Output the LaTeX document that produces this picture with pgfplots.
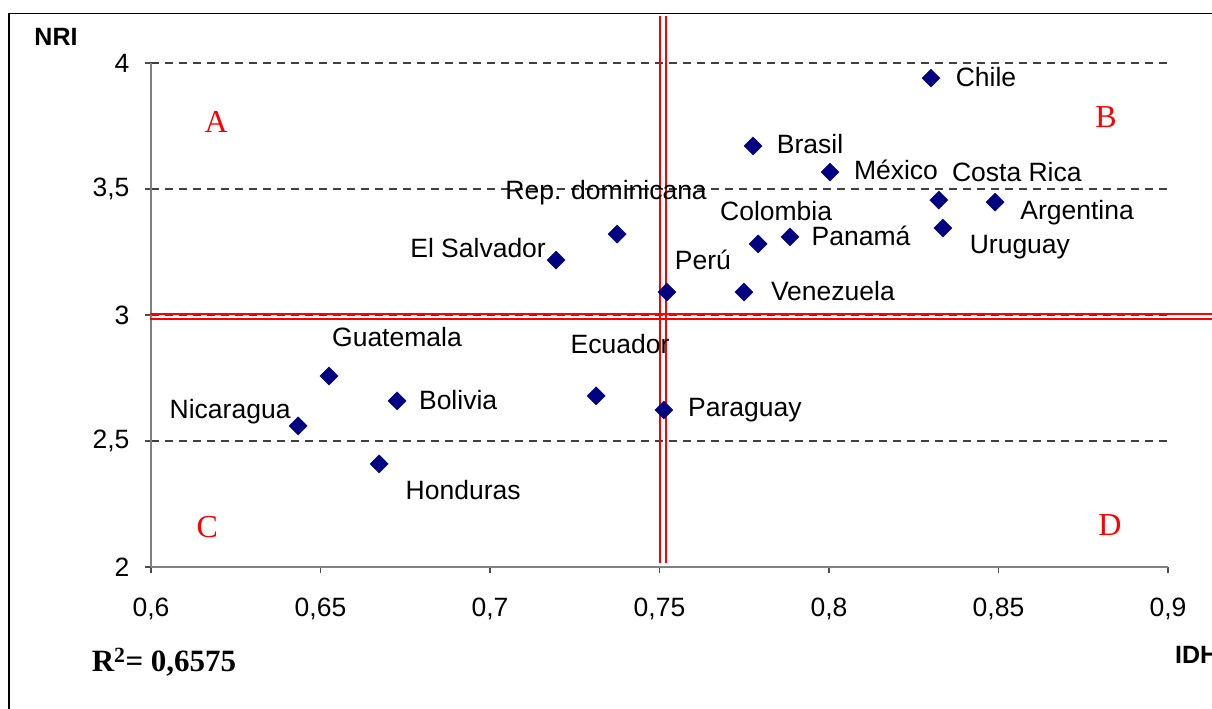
\documentclass[border=0pt]{standalone}
\usepackage{pgfplots}
\pgfplotsset{compat=1.18}
\usepackage{fontspec}
\setmainfont{Liberation Sans}
\newfontfamily\timesfont{Liberation Serif}
\definecolor{navy}{RGB}{0,0,128}
\definecolor{axgray}{RGB}{128,128,128}
\pgfplotsset{
  lbl/.style n args={3}{forget plot, draw=none, mark=none,
    nodes near coords={#1},
    every node near coord/.style={anchor=center, xshift=#2pt, yshift=#3pt,
      font=\fontsize{26.5}{28}\selectfont, text=black, inner sep=0pt}},
}

\begin{document}
\begin{tikzpicture}
\draw[black, line width=1.5pt] (9pt,-30pt) -- (9pt,695.7pt) -- (1260pt,695.7pt);
\begin{axis}[
  at={(151pt,142pt)}, anchor=south west,
  width=1017pt, height=504pt, scale only axis,
  xmin=0.6, xmax=0.9, ymin=2, ymax=4,
  clip=false,
  axis x line*=bottom, axis y line*=left,
  axis line style={axgray, line width=2pt, -},
  xtick={0.6,0.65,0.7,0.75,0.8,0.85,0.9},
  ytick={2,2.5,3,3.5,4},
  tick align=outside, major tick length=6pt,
  tick style={axgray!60!black, line width=1.5pt},
  ymajorgrids,
  major grid style={black!75, dash pattern=on 8pt off 6pt, line width=1.3pt},
  /pgf/number format/.cd, use comma, fixed, precision=2, assume math mode=true,
  /pgfplots/.cd,
  tick label style={font=\fontsize{26.5}{30}\selectfont, text=black},
  xticklabel style={yshift=-21pt},
  yticklabel style={xshift=-12pt},
]
\addplot[red, line width=2pt, forget plot] coordinates {(0.7502,2.016) (0.7502,4.187)};
\addplot[red, line width=2pt, forget plot] coordinates {(0.7518,2.016) (0.7518,4.187)};
\addplot[red, line width=2pt, forget plot] coordinates {(0.5997,3.0028) (0.93,3.0028)};
\addplot[red, line width=2pt, forget plot] coordinates {(0.5997,2.983) (0.93,2.983)};
\addplot[only marks, mark=square*, mark size=6.4pt,
  mark options={rotate=45, fill=navy, draw=navy}] coordinates {
  (0.8301,3.940) (0.7776,3.671) (0.8003,3.567) (0.8324,3.456) (0.8490,3.448)
  (0.8336,3.345) (0.7885,3.310) (0.7791,3.282) (0.7375,3.321) (0.7195,3.218)
  (0.7522,3.091) (0.7749,3.091) (0.6525,2.758) (0.7313,2.679) (0.6726,2.659)
  (0.7513,2.623) (0.6434,2.560) (0.6673,2.409)};
\addplot[lbl={Chile}{55}{1}] coordinates {(0.8301,3.940)};
\addplot[lbl={Brasil}{57}{2}] coordinates {(0.7776,3.671)};
\addplot[lbl={México}{66}{2}] coordinates {(0.8003,3.567)};
\addplot[lbl={Costa Rica}{78}{28}] coordinates {(0.8324,3.456)};
\addplot[lbl={Argentina}{82}{-11}] coordinates {(0.8490,3.448)};
\addplot[lbl={Uruguay}{77}{-19}] coordinates {(0.8336,3.345)};
\addplot[lbl={Panamá}{71}{1}] coordinates {(0.7885,3.310)};
\addplot[lbl={Colombia}{18}{33}] coordinates {(0.7791,3.282)};
\addplot[lbl={Rep. dominicana}{-11}{41}] coordinates {(0.7375,3.321)};
\addplot[lbl={El Salvador}{-78}{12}] coordinates {(0.7195,3.218)};
\addplot[lbl={Perú}{36}{32}] coordinates {(0.7522,3.091)};
\addplot[lbl={Venezuela}{89}{1}] coordinates {(0.7749,3.091)};
\addplot[lbl={Guatemala}{68}{39}] coordinates {(0.6525,2.758)};
\addplot[lbl={Ecuador}{24}{52}] coordinates {(0.7313,2.679)};
\addplot[lbl={Bolivia}{61}{1}] coordinates {(0.6726,2.659)};
\addplot[lbl={Paraguay}{81}{0}] coordinates {(0.7513,2.623)};
\addplot[lbl={Nicaragua}{-68}{14}] coordinates {(0.6434,2.560)};
\addplot[lbl={Honduras}{84}{-26}] coordinates {(0.6673,2.409)};
\node[red, font=\timesfont\fontsize{32}{34}\selectfont] at (axis cs:0.6192,3.766) {A};
\node[red, font=\timesfont\fontsize{32}{34}\selectfont] at (axis cs:0.8817,3.786) {B};
\node[red, font=\timesfont\fontsize{32}{34}\selectfont] at (axis cs:0.6166,2.159) {C};
\node[red, font=\timesfont\fontsize{32}{34}\selectfont] at (axis cs:0.8829,2.167) {D};
\end{axis}
\node[font=\bfseries\fontsize{25}{27}\selectfont] at (56pt,672pt) {NRI};
\node[anchor=west, inner sep=0pt, font=\bfseries\fontsize{25}{27}\selectfont] at (1175pt,54pt) {IDH};
\node[font=\timesfont\bfseries\fontsize{31}{33}\selectfont] at (164pt,47pt) {R\textsuperscript{2}= 0,6575};
\pgfresetboundingbox
\useasboundingbox (0pt,0pt) rectangle (1212pt,709pt);
\end{tikzpicture}
\end{document}
